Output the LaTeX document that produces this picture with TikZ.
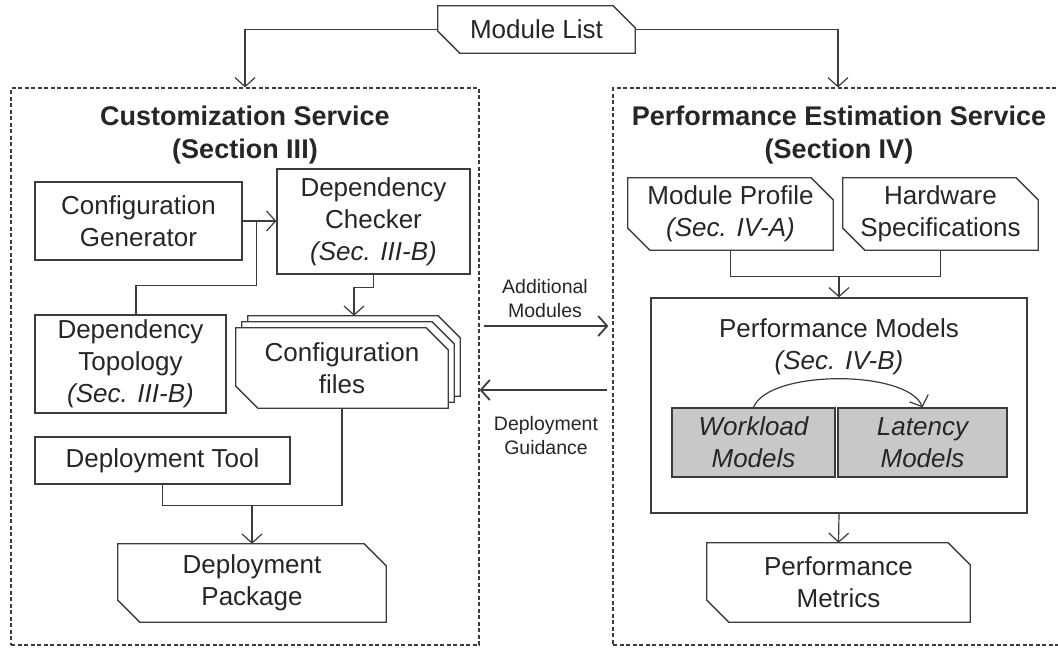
\documentclass[tikz,border=0pt]{standalone}
\usepackage{fontspec,xcolor,tikz}
\setmainfont{Liberation Sans}
\usetikzlibrary{arrows.meta,backgrounds,positioning}
\definecolor{ink}{HTML}{262626}
\definecolor{strich}{HTML}{3C3C3C}
\definecolor{modellgrau}{HTML}{C8C8C8}
\newcommand{\grund}{\fontsize{26}{32}\selectfont}
\newcommand{\kopf}{\fontsize{27}{33}\selectfont\bfseries}
\newcommand{\klein}{\fontsize{19.5}{24}\selectfont}
% Dokumentrahmen: Ecke oben rechts und unten links abgeschnitten
\newcommand{\dokrand}[1]{%
  \draw[strich,line width=1.3pt,fill=white] (#1.north west) -- ([xshift=-22pt]#1.north east)
    -- ([yshift=-22pt]#1.north east) -- (#1.south east) -- ([xshift=22pt]#1.south west)
    -- ([yshift=22pt]#1.south west) -- cycle;}

\begin{document}
\begin{tikzpicture}[x=1pt,y=-1pt,
  kasten/.style={draw=strich,line width=1.3pt,inner sep=0,align=center,font=\grund,text=ink},
  dok/.style={inner sep=0,align=center,font=\grund,text=ink},
  rahmen/.style={draw=strich,line width=1.2pt,dash pattern=on 4pt off 2.5pt,inner sep=0},
  titel/.style={inner sep=0,align=center,font=\kopf,text=ink},
  notiz/.style={inner sep=0,align=center,font=\klein,text=ink},
  linie/.style={draw=strich,line width=1.2pt},
  pfeil/.style={linie,-{Straight Barb[length=9pt,width=20pt]}},
  dickpfeil/.style={pfeil,line width=1.8pt}]
\useasboundingbox (0,0) rectangle (1058,649);
\node[dok,minimum width=197pt,minimum height=47pt] (mlist) at (536.5,29.5) {Module List};
\node[rahmen,minimum width=468pt,minimum height=557pt] (cust) at (245,366.5) {};
\node[rahmen,minimum width=450pt,minimum height=557pt] (perf) at (838,366.5) {};
\node[titel] (custt) at (245,135.5) {Customization Service\\(Section III)};
\node[titel] (perft) at (839,135) {Performance Estimation Service\\(Section IV)};
% linke Seite
\node[kasten,minimum width=207pt,minimum height=78pt] (cgen) at (138.5,221) {Configuration\\Generator};
\node[kasten,minimum width=193pt,minimum height=105pt] (dchk) at (373.5,221.5) {Dependency\\Checker\\\textit{(Sec. III-B)}};
\node[kasten,minimum width=191pt,minimum height=98pt] (dtopo) at (130.5,364) {Dependency\\Topology\\\textit{(Sec. III-B)}};
\node[dok,minimum width=212pt,minimum height=80pt] (cf) at (342,368) {Configuration\\files};
\node[dok,minimum width=212pt,minimum height=80pt] (cf2) at ([shift={(6pt,6pt)}]cf.center) {};
\node[dok,minimum width=212pt,minimum height=80pt] (cf3) at ([shift={(12pt,12pt)}]cf.center) {};
\node[kasten,minimum width=255pt,minimum height=47pt] (dtool) at (162.5,460.5) {Deployment Tool};
\node[dok,minimum width=268pt,minimum height=78pt] (dpkg) at (252,583) {Deployment\\Package};
% rechte Seite
\node[dok,minimum width=205pt,minimum height=72pt] (mprof) at (730.5,214) {Module Profile\\\textit{(Sec. IV-A)}};
\node[dok,minimum width=195pt,minimum height=72pt] (hw) at (940.5,214) {Hardware\\Specifications};
\node[kasten,minimum width=376pt,minimum height=215pt] (pmod) at (839,405.5) {};
\node[dok] (pmodt) at (839,346.5) {Performance Models\\\textit{(Sec. IV-B)}};
\node[kasten,fill=modellgrau,minimum width=163pt,minimum height=69pt,font=\grund\itshape] (wload) at (753.5,442.5) {Workload\\Models};
\node[kasten,fill=modellgrau,minimum width=169pt,minimum height=69pt,font=\grund\itshape] (lat) at (922.5,442.5) {Latency\\Models};
\node[dok,minimum width=263pt,minimum height=79pt] (pmet) at (838.5,582.5) {Performance\\Metrics};
\node[notiz] (zusatz) at (545,299) {Additional\\Modules};
\node[notiz] (hinweis) at (546,436) {Deployment\\Guidance};
\begin{scope}[on background layer]
\foreach \n in {mlist,mprof,hw,cf3,cf2,cf,dpkg,pmet} {\dokrand{\n}}
\end{scope}
% Verbindungen
\draw[pfeil] (mlist.west) -| (cust.north);
\draw[pfeil] (mlist.east) -| (perf.north);
\draw[pfeil] (cgen.east) -- (cgen.east -| dchk.west);
\coordinate (knick) at ([xshift=14pt]cgen.east);
\draw[linie] ([xshift=5.5pt]dtopo.north) -- ++(0,-29) -| (knick);
\draw[pfeil] (dchk.south) -- ++(0,13) -| (cf3.north);
\coordinate (sammel) at ([yshift=-21pt]dtool.south);
\draw[linie] (dtool.south) -- (sammel) -| (cf.south);
\draw[pfeil] (sammel -| dpkg.north) -- (dpkg.north);
\coordinate (treff) at ([yshift=-26pt]mprof.south);
\draw[linie] (mprof.south) -- (treff) -| (hw.south);
\draw[pfeil] (treff -| pmod.north) -- (pmod.north);
\draw[pfeil] (pmod.south) -- (pmet.north);
\draw[pfeil] (wload.north) .. controls +(15,-38) and +(-15,-38) .. (lat.north);
\draw[dickpfeil] ([shift={(4pt,40.5pt)}]cust.east) -- ([shift={(-4pt,40.5pt)}]perf.west);
\draw[dickpfeil] ([shift={(-5pt,-23.5pt)}]perf.west) -- ([yshift=-23.5pt]cust.east);
\end{tikzpicture}
\end{document}
